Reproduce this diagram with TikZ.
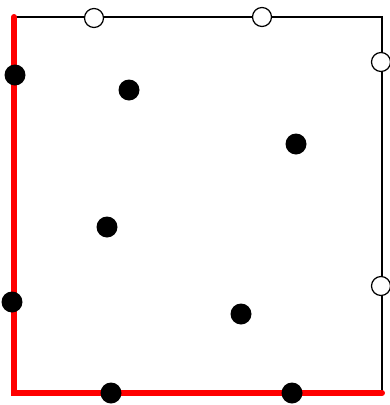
\documentclass[tikz,border=0pt]{standalone}
\begin{document}
\begin{tikzpicture}[x=1pt,y=-1pt,
    fdot/.style={circle,fill=black,inner sep=0pt,minimum size=21pt},
    odot/.style={circle,draw=black,fill=white,line width=1.2pt,inner sep=0pt,minimum size=19pt}]
            \useasboundingbox (0,0) rectangle (389,405);
            % Draw square
            \coordinate (tl) at (14,17);
            \coordinate (tr) at (382,17);
            \coordinate (br) at (382,393);
            \coordinate (bl) at (14,393);
            \draw[line width=1.5pt] (tl) -- (tr) -- (br);
            \draw[red,line width=6pt,line cap=round] (tl) -- (bl) -- (br);
            % Open points on the boundary
            \node[odot] (t1) at (94,18) {};
            \node[odot] (t2) at (262,17) {};
            \node[odot] (r1) at (381,62) {};
            \node[odot] (r2) at (381,286) {};
            % Filled points
            \node[fdot] (p1) at (15,75) {};
            \node[fdot] (p2) at (129,90) {};
            \node[fdot] (p3) at (296,144) {};
            \node[fdot] (p4) at (107,227) {};
            \node[fdot] (p5) at (12,302) {};
            \node[fdot] (p6) at (241,314) {};
            \node[fdot] (p7) at (111,393) {};
            \node[fdot] (p8) at (292,393) {};
        \end{tikzpicture}
\end{document}
